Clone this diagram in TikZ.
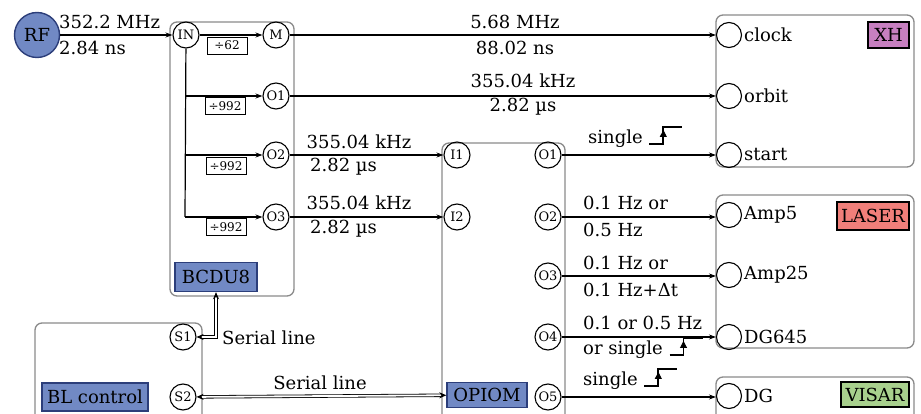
\documentclass[tikz,border=0pt]{standalone}
\usepackage{fontspec}
\setmainfont{DejaVu Serif}
\usetikzlibrary{arrows.meta}
\definecolor{rfblue}{HTML}{7189C4}
\definecolor{rfborder}{HTML}{2C3E7A}
\definecolor{xhpurple}{HTML}{C77FC0}
\definecolor{laserred}{HTML}{F07F7A}
\definecolor{visargreen}{HTML}{A8D08D}
\definecolor{boxgray}{HTML}{8A8A8A}
\newcommand{\stepsym}{\tikz[x=1pt,y=1pt,baseline=0pt]{\draw[line width=1.8pt] (0,0) -- (14,0) -- (14,17) -- (33,17);\draw[line width=0.9pt,-{Triangle[length=7pt,width=7pt]}] (14,2) -- (14,14);}}
\tikzset{
  txt/.style={font=\fontsize{18}{21}\selectfont, inner sep=0pt},
  port/.style={circle, draw, line width=1.1pt, minimum size=26pt, inner sep=0pt, font=\fontsize{13}{15}\selectfont},
  inport/.style={circle, draw, line width=1.1pt, minimum size=25pt, inner sep=0pt},
  divbox/.style={draw, line width=0.8pt, minimum width=40pt, minimum height=17pt, inner sep=0pt, font=\fontsize{12}{14}\selectfont},
  devbox/.style={draw=boxgray, line width=1.3pt, rounded corners=7pt},
  tag/.style={draw, line width=1.4pt, inner sep=0pt, font=\fontsize{18}{21}\selectfont},
  sig/.style={line width=1.2pt, -{Stealth[length=7pt,width=5pt]}},
  ser/.style={double, double distance=1.8pt, line width=0.8pt, {Stealth[length=7pt,width=6pt]}-{Stealth[length=7pt,width=6pt]}}
}
\begin{document}
\begin{tikzpicture}[x=1pt,y=-1pt]
\useasboundingbox (0,0) rectangle (921,414);
% device boxes
\draw[devbox] (170,22) rectangle (294,296);
\draw[devbox] (442,143) rectangle (565,421);
\draw[devbox] (35,323) rectangle (202,421);
\draw[devbox] (716,15) rectangle (914,167);
\draw[devbox] (716,195) rectangle (914,348);
\draw[devbox] (716,377) rectangle (914,430);
% tags
\node[tag, fill=rfblue, draw=rfborder, minimum width=82pt, minimum height=29pt] (bcdu) at (216,277) {BCDU8};
\node[tag, fill=rfblue, draw=rfborder, minimum width=80pt, minimum height=25pt] (opiom) at (487,395) {OPIOM};
\node[tag, fill=rfblue, draw=rfborder, minimum width=106pt, minimum height=28pt] (blc) at (95,397) {BL control};
\node[tag, fill=xhpurple, draw=black, minimum width=41pt, minimum height=26pt] (xh) at (888.5,35) {XH};
\node[tag, fill=laserred, draw=black, minimum width=72pt, minimum height=28pt] (laser) at (873,216) {LASER};
\node[tag, fill=visargreen, draw=black, minimum width=68pt, minimum height=25pt] (visar) at (875,394.5) {VISAR};
% RF
\node[circle, draw=rfborder, fill=rfblue, line width=1.4pt, minimum size=45pt, inner sep=0pt, font=\fontsize{18}{21}\selectfont] (rf) at (37,35) {RF};
% BCDU8 ports
\node[port] (in) at (186,35) {IN};
\node[port] (m) at (276,35) {M};
\node[port] (bo1) at (276,96) {O1};
\node[port] (bo2) at (276,155) {O2};
\node[port] (bo3) at (276,217) {O3};
\coordinate (j1) at (185,96);
\coordinate (j2) at (185,155);
\coordinate (j3) at (185,217);
\node[divbox] (d62) at (227,45.5) {÷62};
\node[divbox] (d1) at (225,106) {÷992};
\node[divbox] (d2) at (226,166) {÷992};
\node[divbox] (d3) at (226,227) {÷992};
% OPIOM ports
\node[port] (i1) at (457,155) {I1};
\node[port] (i2) at (457,217) {I2};
\node[port] (po1) at (548,155) {O1};
\node[port] (po2) at (548,217) {O2};
\node[port] (po3) at (548,276) {O3};
\node[port] (po4) at (548,337) {O4};
\node[port] (po5) at (548,397) {O5};
% BL control ports
\node[port] (s1) at (183,337) {S1};
\node[port] (s2) at (183,397) {S2};
% device inputs
\node[inport] (clock) at (729,35) {};
\node[inport] (orbit) at (729,96) {};
\node[inport] (start) at (729,155) {};
\node[inport] (amp5) at (729,215) {};
\node[inport] (amp25) at (729,275) {};
\node[inport] (dg645) at (729,337) {};
\node[inport] (dg) at (729,396) {};
\node[txt, anchor=west] at (744,35) {clock};
\node[txt, anchor=west] at (744,96) {orbit};
\node[txt, anchor=west] at (744,155) {start};
\node[txt, anchor=west] at (744,215) {Amp5};
\node[txt, anchor=west] at (744,275) {Amp25};
\node[txt, anchor=west] at (744,337) {DG645};
\node[txt, anchor=west] at (744,396) {DG};
% connectors
\draw[sig] (rf) -- (in);
\draw[sig] (in) -- (m);
\draw[line width=1.2pt] (in) -- (j3);
\draw[sig] (j1) -- (bo1);
\draw[sig] (j2) -- (bo2);
\draw[sig] (j3) -- (bo3);
\draw[sig] (m) -- (clock);
\draw[sig] (bo1) -- (orbit);
\draw[sig] (bo2) -- (i1);
\draw[sig] (bo3) -- (i2);
\draw[sig] (po1) -- (start);
\draw[sig] (po2) -- (amp5.west |- po2);
\draw[sig] (po3) -- (amp25.west |- po3);
\draw[sig] (po4) -- (dg645);
\draw[sig] (po5) -- (dg.west |- po5);
\draw[ser] (bcdu.south) |- (s1.east);
\draw[ser] (s2) -- (opiom);
% labels
\node[txt, anchor=west] at (59,22) {352.2 MHz};
\node[txt, anchor=west] at (59,48) {2.84 ns};
\node[txt] at (515,22) {5.68 MHz};
\node[txt] at (515,48) {88.02 ns};
\node[txt] at (523,81) {355.04 kHz};
\node[txt] at (523,107) {2.82 µs};
\node[txt] at (359,142) {355.04 kHz};
\node[txt, anchor=west] at (310,167) {2.82 µs};
\node[txt] at (359,203) {355.04 kHz};
\node[txt, anchor=west] at (310,229) {2.82 µs};
\node[txt, anchor=west] at (588,137) {single \stepsym};
\node[txt, anchor=west] at (583,203) {0.1 Hz or};
\node[txt, anchor=west] at (583,230) {0.5 Hz};
\node[txt, anchor=west] at (583,263) {0.1 Hz or};
\node[txt, anchor=west] at (583,290) {0.1 Hz+Δt};
\node[txt, anchor=west] at (583,323) {0.1 or 0.5 Hz};
\node[txt, anchor=west] at (583,348) {or single \stepsym};
\node[txt, anchor=west] at (583,379) {single \stepsym};
\node[txt, anchor=west] at (222,338) {Serial line};
\node[txt] at (320,383) {Serial line};
\end{tikzpicture}
\end{document}
